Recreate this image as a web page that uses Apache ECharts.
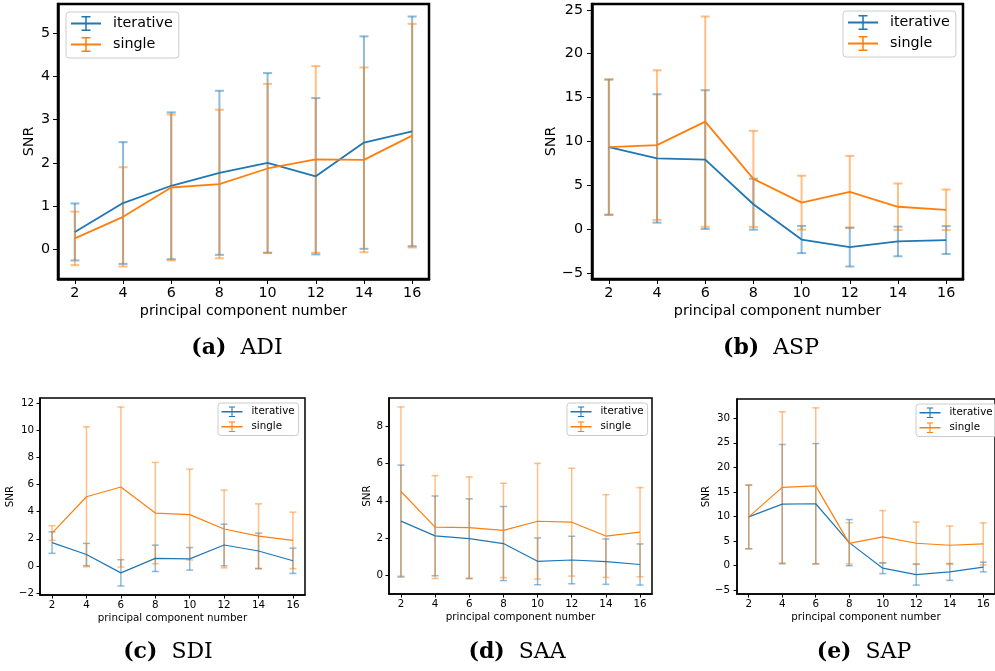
<!DOCTYPE html>
<html>
<head>
<meta charset="utf-8">
<script src="https://cdn.jsdelivr.net/npm/echarts@6.0.0/dist/echarts.min.js"></script>
<style>
  html, body { margin: 0; padding: 0; background: #fff; }
  #chart { width: 995px; height: 671px; }
</style>
</head>
<body>
<div id="chart"></div>
<script>
// principal component numbers (x values and x tick labels)
const pcNumbers = [2, 4, 6, 8, 10, 12, 14, 16]

// (a) ADI
const adiIterMean = [0.40, 1.07, 1.47, 1.77, 2.00, 1.69, 2.47, 2.73]
const adiIterStd = [0.66, 1.41, 1.70, 1.90, 2.08, 1.81, 2.46, 2.66]
const adiSingleMean = [0.25, 0.75, 1.43, 1.51, 1.87, 2.08, 2.07, 2.63]
const adiSingleStd = [0.62, 1.15, 1.69, 1.72, 1.96, 2.16, 2.14, 2.59]
const adiTicks = [0, 1, 2, 3, 4, 5]

// (b) ASP
const aspIterMean = [9.37, 8.08, 7.95, 2.87, -1.15, -2.01, -1.37, -1.21]
const aspIterStd = [7.70, 7.31, 7.90, 2.90, 1.55, 2.21, 1.69, 1.59]
const aspSingleMean = [9.37, 9.60, 12.27, 5.75, 3.05, 4.28, 2.58, 2.23]
const aspSingleStd = [7.70, 8.52, 11.97, 5.47, 3.07, 4.09, 2.65, 2.31]
const aspTicks = [-5, 0, 5, 10, 15, 20, 25]

// (c) SDI
const sdiIterMean = [1.72, 0.84, -0.51, 0.56, 0.52, 1.54, 1.10, 0.38]
const sdiIterStd = [0.79, 0.82, 0.97, 0.97, 0.83, 1.53, 1.31, 0.93]
const sdiSingleMean = [2.42, 5.09, 5.81, 3.89, 3.78, 2.72, 2.20, 1.88]
const sdiSingleStd = [0.54, 5.15, 5.89, 3.73, 3.34, 2.86, 2.37, 2.08]
const sdiTicks = [-2, 0, 2, 4, 6, 8, 10, 12]

// (d) SAA
const saaIterMean = [2.92, 2.13, 1.98, 1.72, 0.77, 0.84, 0.75, 0.60]
const saaIterStd = [2.99, 2.13, 2.13, 1.98, 1.25, 1.27, 1.21, 1.10]
const saaSingleMean = [4.50, 2.60, 2.57, 2.42, 2.91, 2.86, 2.12, 2.33]
const saaSingleStd = [4.52, 2.75, 2.71, 2.52, 3.09, 2.88, 2.21, 2.38]
const saaTicks = [0, 2, 4, 6, 8]

// (e) SAP
const sapIterMean = [9.90, 12.50, 12.58, 4.65, -0.55, -1.85, -1.32, -0.32]
const sapIterStd = [6.49, 12.16, 12.26, 4.70, 1.11, 2.16, 1.72, 0.98]
const sapSingleMean = [9.90, 15.92, 16.22, 4.50, 5.82, 4.53, 4.12, 4.38]
const sapSingleStd = [6.49, 15.40, 15.90, 4.20, 5.37, 4.32, 3.92, 4.29]
const sapTicks = [-5, 0, 5, 10, 15, 20, 25, 30]

const BLUE = '#1f77b4'
const ORANGE = '#ff7f0e'
const FONT = 'DejaVu Sans'
// error bar shaped legend icon
const ERR_ICON = 'path://M0,8.8H40V11.2H0Z M19,0H21V20H19Z M14,0H26V2H14Z M14,18H26V20H14Z'

const big = {
  font: 14.3, tickLen: 5, lineWidth: 1.8, barWidth: 2, capHalf: 4.5, border: 2.5,
  labelMargin: 7, xNameGap: 25,
  legend: { itemWidth: 30, itemHeight: 15, itemGap: 6, padding: [4, 6, 6, 5], textPad: 7 }
}
const small = {
  font: 10.3, tickLen: 3.5, lineWidth: 1.2, barWidth: 1.5, capHalf: 3.5, border: 1.5,
  labelMargin: 5, xNameGap: 18,
  legend: { itemWidth: 21, itemHeight: 10.5, itemGap: 4.5, padding: [3.5, 4, 3.5, 3.5], textPad: 4 }
}

const panels = [
  { it: [adiIterMean, adiIterStd], si: [adiSingleMean, adiSingleStd], ticks: adiTicks, sz: big,
    grid: { left: 58, top: 4, width: 371, height: 275 }, legend: { left: 66, top: 12 },
    yNameGap: 22, yMargin: 8, cap: ['(a)', 'ADI', 237, 348] },
  { it: [aspIterMean, aspIterStd], si: [aspSingleMean, aspSingleStd], ticks: aspTicks, sz: big,
    grid: { left: 592, top: 4, width: 371, height: 275 }, legend: { left: 843, top: 11 },
    yNameGap: 33, yMargin: 9, cap: ['(b)', 'ASP', 771, 348] },
  { it: [sdiIterMean, sdiIterStd], si: [sdiSingleMean, sdiSingleStd], ticks: sdiTicks, sz: small,
    grid: { left: 40, top: 398, width: 265, height: 197 }, legend: { left: 218, top: 403 },
    yNameGap: 23, yMargin: 6, cap: ['(c)', 'SDI', 168, 652] },
  { it: [saaIterMean, saaIterStd], si: [saaSingleMean, saaSingleStd], ticks: saaTicks, sz: small,
    grid: { left: 389, top: 398, width: 263, height: 196 }, legend: { left: 567, top: 403 },
    yNameGap: 15, yMargin: 6, cap: ['(d)', 'SAA', 517, 652] },
  { it: [sapIterMean, sapIterStd], si: [sapSingleMean, sapSingleStd], ticks: sapTicks, sz: small,
    grid: { left: 737, top: 399, width: 263, height: 195 }, legend: { left: 916, top: 404 },
    yNameGap: 24, yMargin: 7, cap: ['(e)', 'SAP', 864, 652] }
]

function minusSign(v) {
  return v < 0 ? '\u2212' + Math.abs(v) : String(v)
}

function yLimits(p) {
  let lo = Infinity
  let hi = -Infinity
  for (const [m, s] of [p.it, p.si]) {
    m.forEach((v, i) => {
      lo = Math.min(lo, v - s[i])
      hi = Math.max(hi, v + s[i])
    })
  }
  const pad = (hi - lo) * 0.05
  return [lo - pad, hi + pad]
}

function errorBars(gi, mean, std, color, sz) {
  return {
    name: 'err' + gi + color,
    type: 'custom',
    xAxisIndex: gi,
    yAxisIndex: gi,
    silent: true,
    data: pcNumbers.map((x, i) => [x, mean[i] - std[i], mean[i] + std[i]]),
    encode: { x: 0, y: [1, 2] },
    renderItem: function(params, api) {
      const hi = api.coord([api.value(0), api.value(2)])
      const lo = api.coord([api.value(0), api.value(1)])
      const st = { stroke: color, lineWidth: sz.barWidth, opacity: 0.5 }
      const c = sz.capHalf
      return {
        type: 'group',
        children: [
          { type: 'line', shape: { x1: hi[0], y1: hi[1], x2: lo[0], y2: lo[1] }, style: st },
          { type: 'line', shape: { x1: hi[0] - c, y1: hi[1], x2: hi[0] + c, y2: hi[1] }, style: st },
          { type: 'line', shape: { x1: lo[0] - c, y1: lo[1], x2: lo[0] + c, y2: lo[1] }, style: st }
        ]
      }
    }
  }
}

function meanLine(gi, name, mean, color, sz) {
  return {
    name: name,
    type: 'line',
    xAxisIndex: gi,
    yAxisIndex: gi,
    color: color,
    showSymbol: false,
    symbol: 'none',
    lineStyle: { color: color, width: sz.lineWidth },
    data: pcNumbers.map((x, i) => [x, mean[i]])
  }
}

const xPad = (pcNumbers[pcNumbers.length - 1] - pcNumbers[0]) * 0.05
const grids = []
const xAxes = []
const yAxes = []
const legends = []
const series = []
const graphics = []

panels.forEach((p, gi) => {
  const sz = p.sz
  const [yMin, yMax] = yLimits(p)
  grids.push(Object.assign({
    show: true, borderColor: '#000', borderWidth: sz.border, backgroundColor: 'transparent'
  }, p.grid))
  xAxes.push({
    type: 'value',
    gridIndex: gi,
    min: pcNumbers[0] - xPad,
    max: pcNumbers[pcNumbers.length - 1] + xPad,
    name: 'principal component number',
    nameLocation: 'middle',
    nameGap: sz.xNameGap,
    nameTextStyle: { fontSize: sz.font, color: '#000', fontFamily: FONT },
    axisLine: { show: true, onZero: false, lineStyle: { color: '#000', width: sz.border } },
    axisTick: { show: true, length: sz.tickLen, customValues: pcNumbers, lineStyle: { color: '#000', width: 1 } },
    axisLabel: { customValues: pcNumbers, margin: sz.labelMargin, fontSize: sz.font, color: '#000', fontFamily: FONT },
    splitLine: { show: false }
  })
  yAxes.push({
    type: 'value',
    gridIndex: gi,
    min: yMin,
    max: yMax,
    name: 'SNR',
    nameLocation: 'middle',
    nameGap: p.yNameGap,
    nameTextStyle: { fontSize: sz.font, color: '#000', fontFamily: FONT },
    axisLine: { show: true, onZero: false, lineStyle: { color: '#000', width: sz.border } },
    axisTick: { show: true, length: sz.tickLen, customValues: p.ticks, lineStyle: { color: '#000', width: 1 } },
    axisLabel: {
      customValues: p.ticks, margin: p.yMargin, fontSize: sz.font, color: '#000', fontFamily: FONT,
      formatter: minusSign
    },
    splitLine: { show: false }
  })
  legends.push(Object.assign({
    orient: 'vertical',
    data: [{ name: 'iterative', icon: ERR_ICON }, { name: 'single', icon: ERR_ICON }],
    itemWidth: sz.legend.itemWidth,
    itemHeight: sz.legend.itemHeight,
    itemGap: sz.legend.itemGap,
    padding: sz.legend.padding,
    backgroundColor: 'rgba(255,255,255,0.8)',
    borderColor: '#cccccc',
    borderWidth: 1,
    borderRadius: 3,
    selectedMode: false,
    textStyle: {
      fontSize: sz.font, color: '#000', fontFamily: FONT,
      lineHeight: sz.legend.itemHeight, padding: [0, 0, 0, sz.legend.textPad]
    }
  }, p.legend))

  series.push(meanLine(gi, 'iterative', p.it[0], BLUE, sz))
  series.push(errorBars(gi, p.it[0], p.it[1], BLUE, sz))
  series.push(meanLine(gi, 'single', p.si[0], ORANGE, sz))
  series.push(errorBars(gi, p.si[0], p.si[1], ORANGE, sz))

  graphics.push({
    type: 'text',
    x: p.cap[2],
    y: p.cap[3],
    style: {
      text: '{b|' + p.cap[0] + '}  ' + p.cap[1],
      align: 'center',
      verticalAlign: 'middle',
      fontFamily: 'DejaVu Serif',
      fontSize: 22,
      fill: '#000',
      rich: {
        b: { fontFamily: 'DejaVu Serif', fontWeight: 'bold', fontSize: 22, fill: '#000' }
      }
    }
  })
})

const chart = echarts.init(document.getElementById('chart'), null, { renderer: 'canvas' })
chart.setOption({
  animation: false,
  backgroundColor: '#fff',
  grid: grids,
  xAxis: xAxes,
  yAxis: yAxes,
  legend: legends,
  series: series,
  graphic: graphics
})
</script>
</body>
</html>
